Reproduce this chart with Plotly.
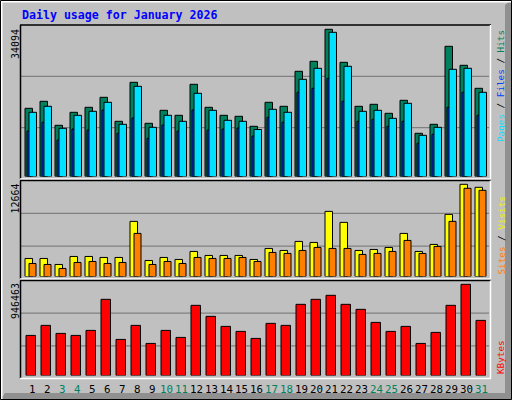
import datetime
import plotly.graph_objects as go

# 2026年1月の日別アクセス
days = list(range(1, 32))
hits = [15796, 17417, 11858, 14869, 16027, 18343, 12785, 21817, 12321, 15332,
        14174, 21354, 16027, 14174, 13943, 11627, 17185, 16259, 24365, 26681,
        34094, 26449, 16259, 16722, 14637, 17648, 10005, 12090, 30155, 25754, 20428]
pages = [14869, 16259, 11163, 14174, 15100, 17185, 12090, 20891, 11395, 14174,
         12785, 19269, 15332, 13016, 12785, 10885, 15564, 14869, 22512, 25059,
         33397, 25522, 15100, 15332, 13479, 16953, 9542, 11395, 24828, 25059, 19501]
files = [10538, 12553, 8453, 11001, 10769, 15401, 10005, 13549, 8847, 11927,
         10538, 15401, 10769, 11001, 11233, 9380, 13711, 12553, 19501, 20427,
         22743, 17416, 12784, 13248, 11626, 12784, 7689, 9773, 16027, 19501, 14174]
visits = [2478, 2478, 1652, 2753, 2753, 2615, 2615, 7571, 2202, 2615,
          2340, 3441, 2891, 2891, 2891, 2340, 3854, 3579, 4818, 4680,
          8947, 7433, 3579, 3717, 3992, 5919, 3441, 4405, 8534, 12664, 12251]
sites = [1789, 1652, 1101, 1927, 2065, 1789, 1927, 5919, 1652, 2065,
         1789, 2615, 2478, 2478, 2615, 2065, 3304, 3166, 3579, 3992,
         3854, 3854, 3028, 3166, 3441, 4955, 3166, 4130, 7571, 12113, 11838]
kbytes = [416044, 520055, 436846, 416044, 468050, 790485, 374440, 520055, 332835, 468050,
          395242, 728079, 613667, 509654, 457648, 384841, 540857, 520055, 738480, 790485,
          832089, 738480, 686474, 551258, 457648, 509654, 332835, 447247, 728079, 946463, 572066]

W, H = 512, 400
BG = "#c0c0c0"
GRID = "#808080"
C_HITS, C_FILES, C_PAGES = "#00805c", "#0040ff", "#00e0ff"
C_VISITS, C_SITES, C_KB = "#ffff00", "#ff8000", "#ff0000"
WEEKEND = "#00805c"
MONO = "DejaVu Sans Mono"


def px(x):
    return x / W


def py(y):
    return 1 - y / H


# x: 1日分 = 15px, 1日目の中心 = 31px
X0, DAYW = 31, 15
xrange_ = [1 + (20 - X0) / DAYW, 1 + (490 - X0) / DAYW]


def u(p):
    return p / DAYW


fig = go.Figure()


def bars(vals, color, off, wid, xa, ya):
    fig.add_trace(go.Bar(x=days, y=vals, offset=u(off), width=u(wid),
                         marker=dict(color=color, line=dict(color="black", width=1)),
                         xaxis=xa, yaxis=ya, hoverinfo="skip", showlegend=False))


bars(hits, C_HITS, -6, 7.5, "x", "y")
bars(files, C_FILES, -4, 4, "x", "y")
bars(pages, C_PAGES, -2, 7.5, "x", "y")
bars(visits, C_VISITS, -6, 7.5, "x2", "y2")
bars(sites, C_SITES, -2, 7, "x2", "y2")
bars(kbytes, C_KB, -5, 9.5, "x3", "y3")

# パネル: (基線px, 最大値の高さpx, 上端px, 最大値)
panels = [(176.5, 147.2, 26, max(hits)),
          (276.5, 92.2, 181, max(visits)),
          (375.5, 91.2, 281, max(kbytes))]

axis_off = dict(visible=False, showgrid=False, zeroline=False, fixedrange=True)
layout = {}
for i, (base, hmax, top, m) in enumerate(panels, start=1):
    sfx = "" if i == 1 else str(i)
    layout["xaxis" + sfx] = dict(axis_off, domain=[px(20), px(490)], range=xrange_,
                                 anchor="y" + sfx)
    layout["yaxis" + sfx] = dict(axis_off, domain=[py(base), py(top)],
                                 range=[0, m * (base - top) / hmax], anchor="x" + sfx)

shapes = []


def line(x0, y0, x1, y1, color, width=1, layer="above"):
    shapes.append(dict(type="line", xref="paper", yref="paper",
                       x0=px(x0), y0=py(y0), x1=px(x1), y1=py(y1),
                       line=dict(color=color, width=width), layer=layer))


# 外枠
shapes.append(dict(type="path", xref="paper", yref="paper", layer="above",
                   path=f"M {px(505)} {py(5)} L {px(511)} {py(0)} L {px(511)} {py(400)} "
                        f"L {px(0)} {py(400)} L {px(5)} {py(393)} L {px(505)} {py(393)} Z",
                   fillcolor="#909090", line=dict(width=0)))
line(0, 1.5, 511, 1.5, "white", 2)
line(1.5, 0, 1.5, 399, "white", 2)
shapes.append(dict(type="rect", xref="paper", yref="paper", layer="above",
                   x0=px(0.5), y0=py(0.5), x1=px(511.5), y1=py(399.5),
                   line=dict(color="black", width=1)))

# パネル枠と補助線
boxes = [(25, 179), (180.5, 279), (280.5, 378.5)]
for t, b in boxes:
    g1 = t + (b - t) / 3
    g2 = t + 2 * (b - t) / 3
    line(21, g1, 489, g1, GRID, 1.2, "below")
    line(21, g2, 489, g2, GRID, 1.2, "below")
    line(20, t, 491, t, "black", 1.5)
    line(20.5, t, 20.5, b, "black", 1.5)
    line(20, b, 491, b, "white", 1.5)
    line(490.5, t, 490.5, b, "white", 1.5)

annotations = [dict(text="<b>Daily usage for January 2026</b>", x=px(20), y=py(15.5),
                    xref="paper", yref="paper", xanchor="left", yanchor="middle",
                    showarrow=False, font=dict(family=MONO, size=11.6, color="#0000ff"))]

# 左側の最大値ラベル
for (base, hmax, top, m), ytop in zip(panels, [27, 181.5, 281]):
    annotations.append(dict(text=str(m), x=px(15), y=py(ytop), xref="paper", yref="paper",
                            xanchor="center", yanchor="top", textangle=-90, showarrow=False,
                            font=dict(family=MONO, size=10, color="black")))

# 右側の凡例
sl = "<span style='color:black'> / </span>"
legends = [
    (f"<span style='color:{C_PAGES}'>Pages</span>{sl}<span style='color:{C_FILES}'>Files</span>"
     f"{sl}<span style='color:{C_HITS}'>Hits</span>", 28.5, "top"),
    (f"<span style='color:{C_SITES}'>Sites</span>{sl}<span style='color:#f0f000'>Visits</span>",
     277, "bottom"),
    (f"<span style='color:{C_KB}'>KBytes</span>", 376.5, "bottom"),
]
for txt, yy, anc in legends:
    annotations.append(dict(text=txt, x=px(500.5), y=py(yy), xref="paper", yref="paper",
                            xanchor="center", yanchor=anc, textangle=-90, showarrow=False,
                            font=dict(family=MONO, size=9.3)))

# 日付ラベル（週末は緑）
for d in days:
    wk = datetime.date(2026, 1, d).weekday() >= 5
    annotations.append(dict(text=str(d), x=d + (u(1.5) if d < 10 else 0), y=py(389),
                            xref="x3", yref="paper", xanchor="center", yanchor="middle",
                            showarrow=False,
                            font=dict(family=MONO, size=10.8, color=WEEKEND if wk else "black")))

fig.update_layout(width=W, height=H, autosize=False, margin=dict(l=0, r=0, t=0, b=0),
                  paper_bgcolor=BG, plot_bgcolor="rgba(0,0,0,0)", barmode="overlay",
                  bargap=0, shapes=shapes, annotations=annotations, showlegend=False,
                  **layout)

# ページ余白を消して512x400にぴったり合わせる
fig.write_html("out.html", config={"displayModeBar": False, "staticPlot": True},
               post_script="document.body.style.margin='0';")
